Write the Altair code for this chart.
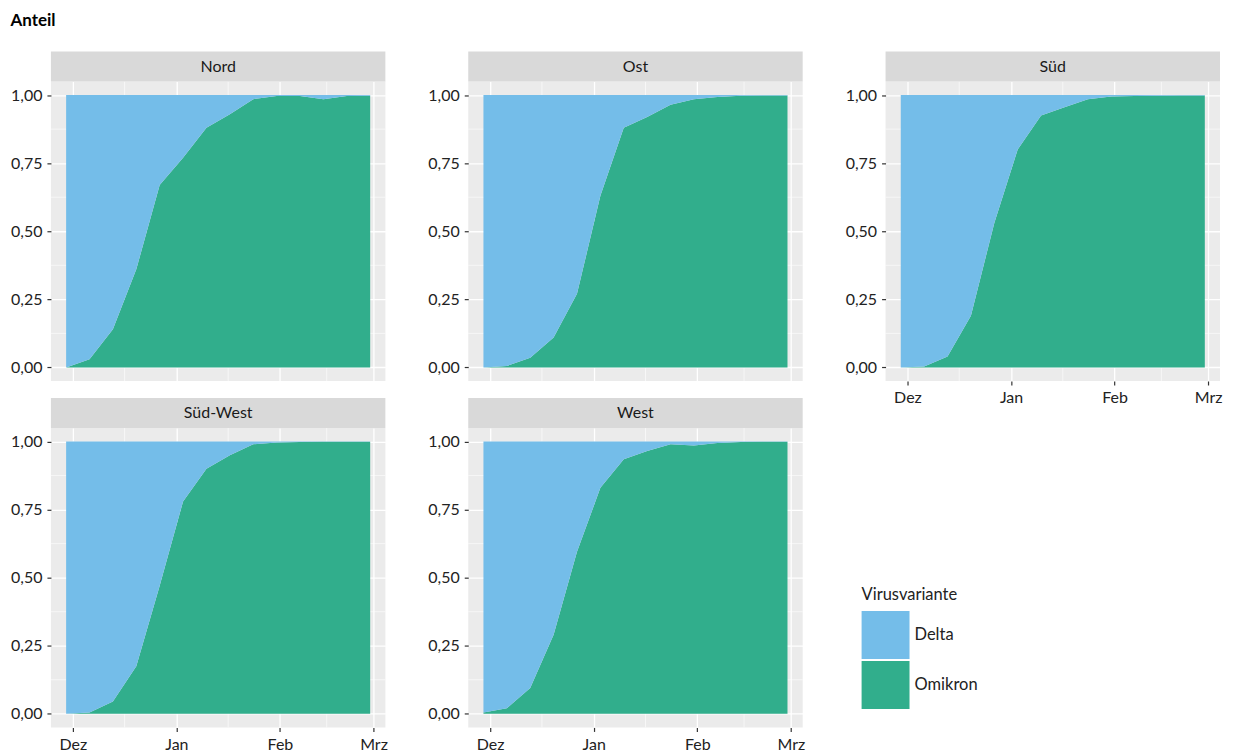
import altair as alt
import pandas as pd

# ---------------- data ----------------
regions = ["Nord", "Ost", "Süd", "Süd-West", "West"]
variants = ["Delta", "Omikron"]
variant_colors = ["#74BDE9", "#31AE8C"]
weeks = ["2021-11-29", "2021-12-06", "2021-12-13", "2021-12-20", "2021-12-27",
         "2022-01-03", "2022-01-10", "2022-01-17", "2022-01-24", "2022-01-31",
         "2022-02-07", "2022-02-14", "2022-02-21", "2022-02-28"]
omikron_nord = [0.0, 0.03, 0.14, 0.36, 0.67, 0.77, 0.88, 0.93, 0.985, 0.997, 0.997, 0.985, 0.997, 0.998]
omikron_ost = [0.0, 0.005, 0.035, 0.11, 0.27, 0.63, 0.88, 0.92, 0.965, 0.985, 0.993, 0.998, 0.999, 0.999]
omikron_sued = [0.0, 0.003, 0.04, 0.19, 0.53, 0.80, 0.925, 0.955, 0.985, 0.995, 0.997, 0.998, 0.999, 0.999]
omikron_suedwest = [0.0, 0.005, 0.045, 0.175, 0.47, 0.78, 0.90, 0.95, 0.99, 0.996, 0.998, 0.999, 0.999, 0.999]
omikron_west = [0.005, 0.02, 0.095, 0.29, 0.595, 0.83, 0.935, 0.965, 0.99, 0.985, 0.995, 0.998, 0.999, 0.999]
omikron_by_region = [omikron_nord, omikron_ost, omikron_sued, omikron_suedwest, omikron_west]

month_names = ["Jan", "Feb", "Mrz", "Apr", "Mai", "Jun", "Jul", "Aug", "Sep", "Okt", "Nov", "Dez"]
x_major = [(2021, 12, 1), (2022, 1, 1), (2022, 2, 1), (2022, 3, 1)]
x_minor = ["2021-12-16T12:00:00Z", "2022-01-16T12:00:00Z", "2022-02-15T00:00:00Z"]
y_major = [0, 0.25, 0.5, 0.75, 1.0]
y_minor = [0.125, 0.375, 0.625, 0.875]

# ---------------- layout ----------------
W, H = 335, 300
STRIP = 30
FONT = "Lato"

xscale = alt.Scale(
    type="utc",
    domain=[alt.DateTime(year=2021, month=11, date=24, hours=10, minutes=48, utc=True),
            alt.DateTime(year=2022, month=3, date=4, hours=13, minutes=12, utc=True)],
)
yscale = alt.Scale(domain=[-0.05, 1.05], nice=False, zero=False)
color_scale = alt.Scale(domain=variants, range=variant_colors)

month_expr = "[" + ",".join("'%s'" % m for m in month_names) + "][utcmonth(datum.value)]"


def x_axis(show):
    return alt.Axis(
        title=None,
        values=[alt.DateTime(year=y, month=m, date=d, utc=True) for (y, m, d) in x_major],
        labelExpr=month_expr,
        labels=show,
        ticks=show,
        grid=True,
        gridColor="white",
        gridWidth=1.3,
        domain=False,
        tickColor="#333333",
        tickSize=4,
        tickWidth=1.2,
        labelPadding=5,
        labelFontSize=16,
        labelColor="#222222",
        labelFont=FONT,
    )


y_axis = alt.Axis(
    title=None,
    values=y_major,
    labelExpr="replace(format(datum.value, '.2f'), '.', ',')",
    grid=True,
    gridColor="white",
    gridWidth=1.3,
    domain=False,
    tickColor="#333333",
    tickSize=4,
    tickWidth=1.2,
    labelPadding=5,
    labelFontSize=16,
    labelColor="#222222",
    labelFont=FONT,
)


def panel(name, omikron, show_x):
    rows = []
    for w, o in zip(weeks, omikron):
        rows.append({"date": w, "variant": "Omikron", "share": o, "ord": 0})
        rows.append({"date": w, "variant": "Delta", "share": 1 - o, "ord": 1})
    df = pd.DataFrame(rows)
    xa = x_axis(show_x)

    minor_x = alt.Chart(pd.DataFrame({"d": x_minor})).mark_rule(
        color="white", strokeWidth=0.6
    ).encode(x=alt.X("d:T", scale=xscale, axis=xa))
    minor_y = alt.Chart(pd.DataFrame({"v": y_minor})).mark_rule(
        color="white", strokeWidth=0.6
    ).encode(y=alt.Y("v:Q", scale=yscale, axis=y_axis))

    area = alt.Chart(df).mark_area(interpolate="linear").encode(
        x=alt.X("date:T", scale=xscale, axis=xa),
        y=alt.Y("share:Q", stack="zero", scale=yscale, axis=y_axis),
        color=alt.Color(
            "variant:N",
            scale=color_scale,
            legend=alt.Legend(
                title="Virusvariante",
                orient="none",
                legendX=812,
                legendY=506,
                symbolType="square",
                symbolSize=2304,
                symbolStrokeWidth=0,
                symbolOpacity=1,
                titleFontSize=16.5,
                titleFontWeight="normal",
                titleFont=FONT,
                titleColor="#222222",
                titlePadding=8,
                labelFontSize=16.5,
                labelFont=FONT,
                labelColor="#222222",
                labelOffset=5,
                rowPadding=2,
            ),
        ),
        order=alt.Order("ord:Q"),
    )

    sdf = pd.DataFrame({"region": [name]})
    strip = alt.Chart(sdf).mark_rect(color="#D9D9D9").encode(
        x=alt.value(0), x2=alt.value(W), y=alt.value(-STRIP), y2=alt.value(0)
    )
    strip_text = alt.Chart(sdf).mark_text(
        fontSize=16, color="#1A1A1A", font=FONT, baseline="middle", align="center"
    ).encode(x=alt.value(W / 2), y=alt.value(-STRIP / 2), text="region:N")

    return alt.layer(minor_x, minor_y, area, strip, strip_text).properties(width=W, height=H)


panels = [panel(r, o, r in ("Süd", "Süd-West", "West")) for r, o in zip(regions, omikron_by_region)]

chart = alt.concat(
    *panels, columns=3, spacing={"row": 47, "column": 83}, bounds="flush"
).properties(
    title=alt.TitleParams(
        "Anteil", anchor="start", fontSize=17, fontWeight="bold", font=FONT,
        color="black", offset=22,
    ),
    padding={"left": 2, "top": 3, "right": 2, "bottom": 0},
).configure(
    font=FONT
).configure_view(
    fill="#EBEBEB", stroke=None
)

chart.save("out.html", embed_options={"renderer": "svg", "actions": False})
